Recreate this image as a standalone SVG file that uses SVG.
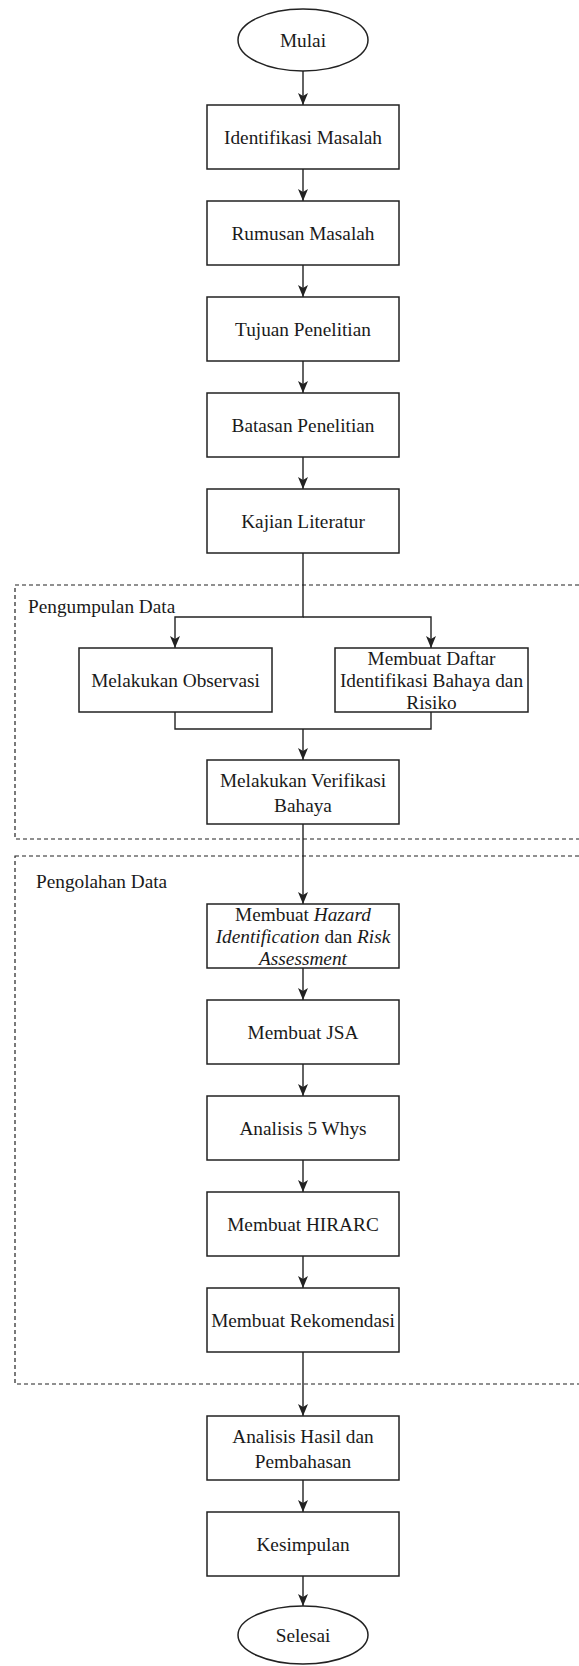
<svg xmlns="http://www.w3.org/2000/svg" width="579" height="1666" viewBox="0 0 579 1666" font-family="'Liberation Serif', 'Times New Roman', 'DejaVu Serif', serif">
<style>
.box{fill:#fff;stroke:#222;stroke-width:1.5}
.grp{fill:none;stroke:#222;stroke-width:1.2;stroke-dasharray:4 3}
.t,.lbl{font-family:'Liberation Serif','Times New Roman','DejaVu Serif',serif;font-size:19.3px;fill:#1a1a1a}
.t{text-anchor:middle;dominant-baseline:central}
.c{fill:none;stroke:#222;stroke-width:1.4}
</style>
<defs>
<marker id="ah" markerWidth="12" markerHeight="10" refX="12" refY="5" orient="auto" markerUnits="userSpaceOnUse" viewBox="0 0 12 10">
<path d="M0,0 L12,5 L0,10 L3,5 Z" fill="#222"/>
</marker>
</defs>
<rect width="579" height="1666" fill="#fff"/>
<g id="group-pengumpulan">
<rect class="grp" x="15" y="585" width="600" height="254"/>
<text class="lbl" x="28" y="613">Pengumpulan Data</text>
</g>
<g id="group-pengolahan">
<rect class="grp" x="15" y="856" width="600" height="528"/>
<text class="lbl" x="36" y="888">Pengolahan Data</text>
</g>
<g id="connectors">
<path class="c" d="M303,71 V105" marker-end="url(#ah)"/>
<path class="c" d="M303,169 V201" marker-end="url(#ah)"/>
<path class="c" d="M303,265 V297" marker-end="url(#ah)"/>
<path class="c" d="M303,361 V393" marker-end="url(#ah)"/>
<path class="c" d="M303,457 V489" marker-end="url(#ah)"/>
<path class="c" d="M303,553 V617 H175 V648" marker-end="url(#ah)"/>
<path class="c" d="M303,617 H431 V648" marker-end="url(#ah)"/>
<path class="c" d="M175,712 V729 H431 V712"/>
<path class="c" d="M303,729 V760" marker-end="url(#ah)"/>
<path class="c" d="M303,824 V904" marker-end="url(#ah)"/>
<path class="c" d="M303,968 V1000" marker-end="url(#ah)"/>
<path class="c" d="M303,1064 V1096" marker-end="url(#ah)"/>
<path class="c" d="M303,1160 V1192" marker-end="url(#ah)"/>
<path class="c" d="M303,1256 V1288" marker-end="url(#ah)"/>
<path class="c" d="M303,1352 V1416" marker-end="url(#ah)"/>
<path class="c" d="M303,1480 V1512" marker-end="url(#ah)"/>
<path class="c" d="M303,1576 V1606" marker-end="url(#ah)"/>
</g>
<g id="mulai"><ellipse class="box" cx="303" cy="40" rx="65" ry="31"/><text class="t" x="303" y="40">Mulai</text></g>
<g id="identifikasi"><rect class="box" x="207" y="105" width="192" height="64"/><text class="t" x="303" y="137">Identifikasi Masalah</text></g>
<g id="rumusan"><rect class="box" x="207" y="201" width="192" height="64"/><text class="t" x="303" y="233">Rumusan Masalah</text></g>
<g id="tujuan"><rect class="box" x="207" y="297" width="192" height="64"/><text class="t" x="303" y="329">Tujuan Penelitian</text></g>
<g id="batasan"><rect class="box" x="207" y="393" width="192" height="64"/><text class="t" x="303" y="425">Batasan Penelitian</text></g>
<g id="kajian"><rect class="box" x="207" y="489" width="192" height="64"/><text class="t" x="303" y="521">Kajian Literatur</text></g>
<g id="observasi"><rect class="box" x="79" y="648" width="193" height="64"/><text class="t" x="175.5" y="680">Melakukan Observasi</text></g>
<g id="daftar"><rect class="box" x="335" y="648" width="193" height="64"/>
<text class="t" x="431.5" y="658">Membuat Daftar</text>
<text class="t" x="431.5" y="680">Identifikasi Bahaya dan</text>
<text class="t" x="431.5" y="702">Risiko</text></g>
<g id="verifikasi"><rect class="box" x="207" y="760" width="192" height="64"/>
<text class="t" x="303" y="780">Melakukan Verifikasi</text>
<text class="t" x="303" y="805">Bahaya</text></g>
<g id="hira"><rect class="box" x="207" y="904" width="192" height="64"/>
<text class="t" x="303" y="914">Membuat <tspan font-style="italic">Hazard</tspan></text>
<text class="t" x="303" y="936"><tspan font-style="italic">Identification</tspan> dan <tspan font-style="italic">Risk</tspan></text>
<text class="t" x="303" y="958" font-style="italic">Assessment</text></g>
<g id="jsa"><rect class="box" x="207" y="1000" width="192" height="64"/><text class="t" x="303" y="1032">Membuat JSA</text></g>
<g id="whys"><rect class="box" x="207" y="1096" width="192" height="64"/><text class="t" x="303" y="1128">Analisis 5 Whys</text></g>
<g id="hirarc"><rect class="box" x="207" y="1192" width="192" height="64"/><text class="t" x="303" y="1224">Membuat HIRARC</text></g>
<g id="rekomendasi"><rect class="box" x="207" y="1288" width="192" height="64"/><text class="t" x="303" y="1320">Membuat Rekomendasi</text></g>
<g id="analisis-hasil"><rect class="box" x="207" y="1416" width="192" height="64"/>
<text class="t" x="303" y="1436">Analisis Hasil dan</text>
<text class="t" x="303" y="1461">Pembahasan</text></g>
<g id="kesimpulan"><rect class="box" x="207" y="1512" width="192" height="64"/><text class="t" x="303" y="1544">Kesimpulan</text></g>
<g id="selesai"><ellipse class="box" cx="303" cy="1635" rx="65" ry="29"/><text class="t" x="303" y="1635">Selesai</text></g>
</svg>
